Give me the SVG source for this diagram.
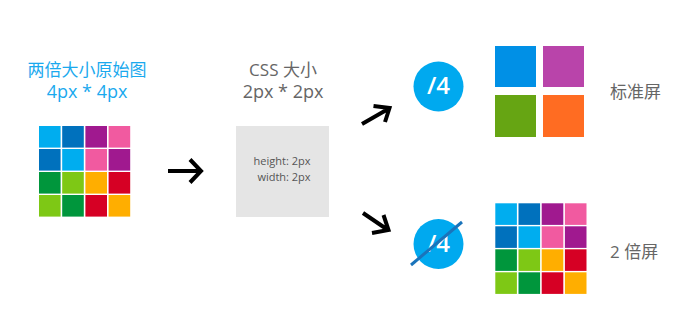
<svg xmlns="http://www.w3.org/2000/svg" width="700" height="330" viewBox="0 0 700 330">
<style>
.t{font-family:"Open Sans","Noto Sans CJK SC",sans-serif;}
.blue{fill:#1aa9ee;font-size:17px;}
.gray{fill:#666666;font-size:17px;}
.small{fill:#555555;font-size:11px;font-family:"Open Sans",sans-serif;}
.arrow{fill:none;stroke:#000;stroke-width:4;stroke-linejoin:miter;}
.c1{fill:#00adef}.c2{fill:#0071bd}.c3{fill:#a0198f}.c4{fill:#f15aa0}
.c5{fill:#00963c}.c6{fill:#7ec815}.c7{fill:#ffae00}.c8{fill:#d60024}
.badge{fill:#00a9ef}
.badgetext{fill:#fff;font-family:"Open Sans",sans-serif;font-size:24px;font-weight:600;}
</style>
<defs>
<g id="grid">
<rect class="c1" x="0" y="0" width="21.6" height="21.6"/>
<rect class="c2" x="23.2" y="0" width="21.6" height="21.6"/>
<rect class="c3" x="46.4" y="0" width="21.6" height="21.6"/>
<rect class="c4" x="69.6" y="0" width="21.6" height="21.6"/>
<rect class="c2" x="0" y="23" width="21.6" height="21.6"/>
<rect class="c1" x="23.2" y="23" width="21.6" height="21.6"/>
<rect class="c4" x="46.4" y="23" width="21.6" height="21.6"/>
<rect class="c3" x="69.6" y="23" width="21.6" height="21.6"/>
<rect class="c5" x="0" y="46" width="21.6" height="21.6"/>
<rect class="c6" x="23.2" y="46" width="21.6" height="21.6"/>
<rect class="c7" x="46.4" y="46" width="21.6" height="21.6"/>
<rect class="c8" x="69.6" y="46" width="21.6" height="21.6"/>
<rect class="c6" x="0" y="69" width="21.6" height="21.6"/>
<rect class="c5" x="23.2" y="69" width="21.6" height="21.6"/>
<rect class="c8" x="46.4" y="69" width="21.6" height="21.6"/>
<rect class="c7" x="69.6" y="69" width="21.6" height="21.6"/>
</g>
</defs>

<g id="original">
<text class="t blue" x="87" y="76" text-anchor="middle">两倍大小原始图</text>
<text class="t blue" x="87" y="98" text-anchor="middle" style="font-size:18px">4px * 4px</text>
<use href="#grid" x="39" y="126"/>
</g>

<g id="css">
<text class="t gray" x="283" y="76" text-anchor="middle">CSS 大小</text>
<text class="t gray" x="283" y="98" text-anchor="middle" style="font-size:18px">2px * 2px</text>
<rect x="236" y="126" width="93" height="91" fill="#e5e5e5"/>
<text class="small" x="282" y="165" text-anchor="middle">height: 2px</text>
<text class="small" x="284" y="181" text-anchor="middle">width: 2px</text>
</g>

<g id="badge-standard">
<circle class="badge" cx="438.5" cy="86.5" r="25"/>
<text class="badgetext" x="438.5" y="94" text-anchor="middle">/4</text>
</g>

<g id="standard">
<rect x="495" y="46" width="41" height="41" fill="#0090e6"/>
<rect x="543" y="46" width="41" height="41" fill="#b944aa"/>
<rect x="495" y="95" width="41" height="42" fill="#66a513"/>
<rect x="543" y="95" width="41" height="42" fill="#ff6c22"/>
<text class="t gray" x="610" y="98">标准屏</text>
</g>

<g id="badge-retina">
<circle class="badge" cx="438.5" cy="244" r="25"/>
<text class="badgetext" x="438.5" y="252" text-anchor="middle">/4</text>
<line x1="411" y1="265" x2="462" y2="222" stroke="#1a74bb" stroke-width="3"/>
</g>

<g id="retina">
<use href="#grid" x="495.3" y="203.3"/>
<text class="t gray" x="610" y="258">2 倍屏</text>
</g>

<g id="connectors">
<path class="arrow" d="M168,171 H199 M190,159.5 L201,171 L190,182.5"/>
<path class="arrow" d="M362,124 L389,108.5 M373.5,106 L389.5,108 L385,122"/>
<path class="arrow" d="M363,213 L388,230 M383.5,215 L388.5,230 L372,233"/>
</g>
</svg>
